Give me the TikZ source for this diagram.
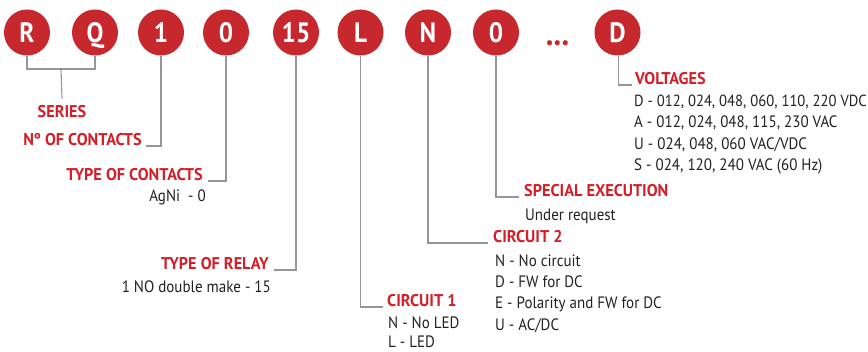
\documentclass[tikz,border=0pt]{standalone}
\usepackage{fontspec}
\newfontfamily\bodyff{PT Sans}[FakeStretch=0.91]
\newfontfamily\headff{PT Sans Bold}[FakeStretch=0.955]
\newfontfamily\circff{PT Sans Bold}[FakeStretch=0.9]
\definecolor{circred}{RGB}{198,40,45}
\definecolor{labred}{RGB}{212,30,40}
\definecolor{bodyblack}{RGB}{35,31,32}
\definecolor{linegray}{RGB}{150,150,150}
\begin{document}
\begin{tikzpicture}[x=1pt,y=-1pt,
  circ/.style={circle,fill=circred,minimum size=46pt,inner sep=0pt,text=white,
    font=\circff\fontsize{28}{28}\selectfont,text height=20pt,text depth=0pt},
  head/.style={text=labred,font=\headff\fontsize{17}{17}\selectfont,inner sep=0pt},
  body/.style={text=bodyblack,font=\bodyff\fontsize{16.5}{16.5}\selectfont,inner sep=0pt},
  conn/.style={draw=linegray,line width=1.1pt}]
\useasboundingbox (0,0) rectangle (868,352);
% code circles
\node[circ] (R) at (27,32.5) {R};
\node[circ] (Q) at (95,32.5) {Q};
\node[circ] (c1) at (161,32.5) {1};
\node[circ] (c0) at (226,32.5) {0};
\node[circ] (c15) at (296,32.5) {15};
\node[circ] (cL) at (360.5,32.5) {L};
\node[circ] (cN) at (428,32.5) {N};
\node[circ] (cO) at (496,32.5) {0};
\node[text=circred,font=\circff\fontsize{34}{34}\selectfont,inner sep=0pt,anchor=base] (dots) at (557.5,46) {...};
\node[circ] (cD) at (617.5,32.5) {D};
% labels
\node[head,anchor=base] (series) at (62,118) {SERIES};
\node[head,anchor=base east] (noc) at (142,146) {Nº OF CONTACTS};
\node[head,anchor=base east] (toc) at (203,181) {TYPE OF CONTACTS};
\node[body,anchor=base east] (agni) at (206,202) {AgNi\ \ - 0};
\node[head,anchor=base east] (tor) at (269,270) {TYPE OF RELAY};
\node[body,anchor=base east] (nodm) at (271,293) {1 NO double make - 15};
\node[head,anchor=base west] (circ1) at (387,307) {CIRCUIT 1};
\node[body,anchor=base west] (c1a) at (388,329) {N - No LED};
\node[body,anchor=base west] (c1b) at (388,347.5) {L - LED};
\node[head,anchor=base west] (circ2) at (493,243) {CIRCUIT 2};
\node[body,anchor=base west] (c2a) at (495,267) {N - No circuit};
\node[body,anchor=base west] (c2b) at (495,288) {D - FW for DC};
\node[body,anchor=base west] (c2c) at (495,309) {E - Polarity and FW for DC};
\node[body,anchor=base west] (c2d) at (495,331) {U - AC/DC};
\node[head,anchor=base west] (spec) at (524,197) {SPECIAL EXECUTION};
\node[body,anchor=base west] (under) at (525,221) {Under request};
\node[head,anchor=base west] (volt) at (635,85) {VOLTAGES};
\node[body,anchor=base west,font=\bodyff\fontsize{16.1}{16.1}\selectfont] (va) at (634,107) {D - 012, 024, 048, 060, 110, 220 VDC};
\node[body,anchor=base west] (vb) at (634,128) {A - 012, 024, 048, 115, 230 VAC};
\node[body,anchor=base west] (vc) at (634,150) {U - 024, 048, 060 VAC/VDC};
\node[body,anchor=base west] (vd) at (634,171) {S - 024, 120, 240 VAC (60 Hz)};
% connectors
\coordinate (br) at (61,69);
\draw[conn] (R.south) |- (br) -| (Q.south);
\draw[conn] (br) -- ([yshift=7pt]series.north);
\draw[conn] (c1.south) |- ([xshift=4pt]noc.base east);
\draw[conn] (c0.south) |- ([xshift=5pt]toc.base east);
\draw[conn] (c15.south) |- ([xshift=5pt]tor.base east);
\draw[conn] (cL.south) |- ([xshift=-4pt]circ1.base west);
\draw[conn] (cN.south) |- ([xshift=-5pt]circ2.base west);
\draw[conn] (cO.south) |- ([xshift=-5pt]spec.base west);
\draw[conn] ([xshift=1pt]cD.south) |- ([xshift=-3pt]volt.base west);
\end{tikzpicture}
\end{document}
